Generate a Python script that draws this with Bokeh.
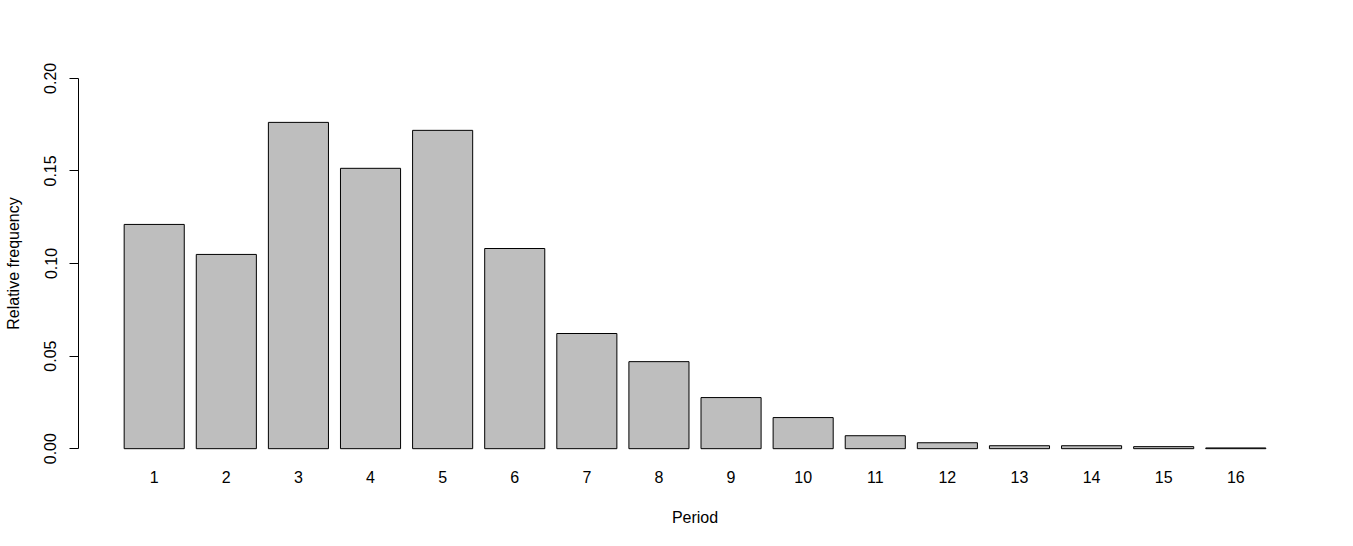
from bokeh.plotting import figure
from bokeh.models import FixedTicker, Range1d, ColumnDataSource
from bokeh.embed import file_html
from bokeh.resources import INLINE

# ---- data ----
periods = ["1", "2", "3", "4", "5", "6", "7", "8", "9", "10", "11", "12", "13", "14", "15", "16"]
rel_freq = [0.1211, 0.1049, 0.1762, 0.1514, 0.1719, 0.1081, 0.0622, 0.0470,
            0.0276, 0.0168, 0.0070, 0.0032, 0.0016, 0.0016, 0.0011, 0.0004]
y_ticks = [0.0, 0.05, 0.10, 0.15, 0.20]
y_tick_labels = ["0.00", "0.05", "0.10", "0.15", "0.20"]

# R-style barplot layout: width 1, space 0.2
bar_w = 1.0
space = 0.2
centers = [space * (i + 1) + bar_w * i + bar_w / 2 for i in range(len(periods))]
x_lo = space
x_hi = space * len(periods) + bar_w * len(periods)
pad_x = 0.04 * (x_hi - x_lo)
pad_y = 0.04 * 0.2

src = ColumnDataSource(dict(x=centers, top=rel_freq, label=periods))

FONT = "Liberation Sans"

p = figure(
    output_backend="svg", toolbar_location=None,
    frame_width=1233, frame_height=400,
    min_border_left=78, min_border_top=63, min_border_bottom=75, min_border_right=34,
    x_range=Range1d(x_lo - pad_x, x_hi + pad_x),
    y_range=Range1d(0 - pad_y, 0.2 + pad_y),
    background_fill_color="white", border_fill_color="white",
)
p.outline_line_color = None
p.grid.visible = False

p.vbar(x="x", top="top", bottom=0, width=bar_w, source=src,
       fill_color="#BEBEBE", line_color="black", line_width=1)

# x axis: labels only
xa = p.xaxis[0]
xa.ticker = FixedTicker(ticks=centers)
xa.major_label_overrides = {c: lab for c, lab in zip(centers, periods)}
xa.axis_line_color = None
xa.major_tick_line_color = None
xa.minor_tick_line_color = None
xa.major_tick_out = 0
xa.major_tick_in = 0
xa.major_label_standoff = 7
xa.major_label_text_font = FONT
xa.major_label_text_font_size = "16px"
xa.major_label_text_color = "black"
xa.axis_label = "Period"
xa.axis_label_text_font = FONT
xa.axis_label_text_font_size = "16px"
xa.axis_label_text_font_style = "normal"
xa.axis_label_text_color = "black"
xa.axis_label_standoff = 23

# y axis
ya = p.yaxis[0]
ya.ticker = FixedTicker(ticks=y_ticks)
ya.major_label_overrides = {t: lab for t, lab in zip(y_ticks, y_tick_labels)}
ya.bounds = (0, 0.2)
ya.axis_line_color = "black"
ya.axis_line_width = 1
ya.major_tick_line_color = "black"
ya.major_tick_out = 9
ya.major_tick_in = 0
ya.minor_tick_line_color = None
ya.major_label_orientation = "parallel"
ya.major_label_standoff = 13
ya.major_label_text_font = FONT
ya.major_label_text_font_size = "16px"
ya.major_label_text_color = "black"
ya.axis_label = "Relative frequency"
ya.axis_label_text_font = FONT
ya.axis_label_text_font_size = "16px"
ya.axis_label_text_font_style = "normal"
ya.axis_label_text_color = "black"
ya.axis_label_standoff = 20

open("out.html", "w").write(file_html(p, INLINE))
